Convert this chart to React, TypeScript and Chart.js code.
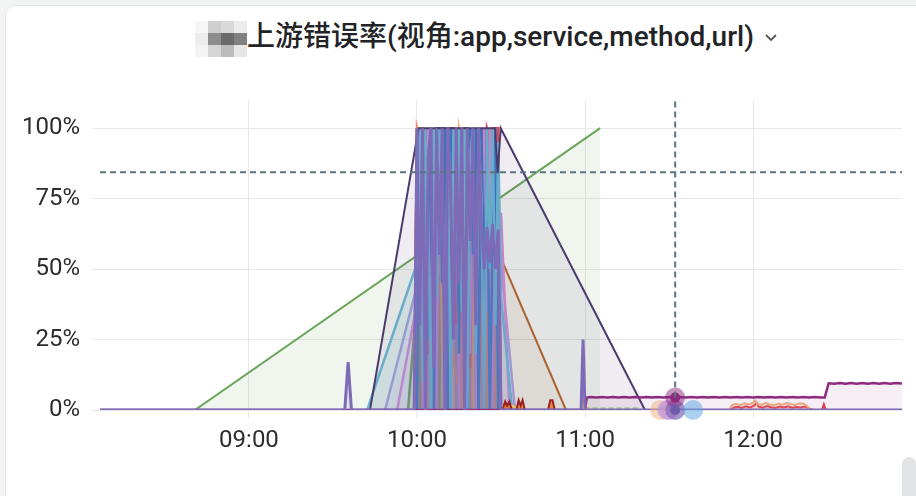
import React, { useEffect, useRef } from 'react';
import { Chart, registerables } from 'chart.js';
Chart.register(...registerables);

// ---------- axes ----------
const X_MIN = 486.8; // minutes of day (08:06.8)
const X_MAX = 773.2; // (12:53.2)
const xTicks = [540, 600, 660, 720];
const xTickLabels = ['09:00', '10:00', '11:00', '12:00'];
const yTicks = [0, 25, 50, 75, 100];
const yTickLabels = ['0%', '25%', '50%', '75%', '100%'];
const Y_MAX = 110;

// ---------- crosshair ----------
const crossX = 692.2;
const crossY = 84.4;

// ---------- big single series ----------
const greenTimes = [520.7, 665.4];
const greenVals = [0, 100];

const darkPurpleTimes = [583.2, 600.6, 627.9, 628.8, 629.9, 681.4];
const darkPurpleVals = [0, 100, 100, 84, 100, 0];

const brownTimes = [624.5, 625.6, 653.2];
const brownVals = [0, 64, 0];

// ---------- dense burst 10:00 - 10:30 ----------
const denseTimes = [600, 601, 602, 603, 604, 605, 606, 607, 608, 609, 610, 611, 612, 613, 614, 615, 616, 617, 618, 619, 620, 621, 622, 623, 624, 625, 626, 627, 628, 629, 630];

const purpleVals = [100, 30, 100, 0, 90, 100, 15, 100, 55, 100, 0, 100, 80, 25, 100, 45, 100, 0, 100, 60, 100, 30, 100, 66, 50, 65, 52, 66, 50, 64, 0];
const lightBlueVals = [52, 100, 10, 100, 70, 0, 100, 40, 100, 85, 20, 100, 0, 100, 60, 100, 35, 100, 0, 90, 100, 20, 100, 75, 0, 100, 50, 100, 30, 95, 40];
const blueVals = [0, 100, 60, 100, 25, 100, 0, 100, 100, 45, 100, 0, 100, 70, 100, 20, 100, 85, 0, 100, 55, 100, 0, 100, 40, 100, 0, 60, 100, 0, 0];
const orchidVals = [38, 100, 0, 80, 100, 30, 100, 0, 100, 65, 100, 10, 100, 40, 100, 0, 100, 75, 100, 20, 100, 0, 100, 55, 100, 35, 100, 0, 100, 60, 70];
const salmonVals = [100, 96, null, null, null, null, null, null, null, null, null, null, null, null, null, null, 0, 100, 0, 80, 100, 0, 100, 20, 100, 0, 100, 40, 0, 0, 0];
const redVals = [100, 70, 0, 100, 20, 100, 85, 0, 100, 45, 100, 0, 100, 100, 30, 100, 0, 90, 100, 15, 100, 60, 0, 100, 0, 100, 97, 100, 100, 100, 0];
const yellowVals = [0, 100, 100, 40, 100, 0, 100, 75, 100, 20, 100, 0, 100, 55, 100, 90, 0, 100, 30, 100, 0, 100, 65, 100, 10, 100, 45, 0, 80, 0, 0];
const greenDenseVals = [40, 0, 100, 35, 100, 0, 100, 60, 0, 100, 25, 100, 0, 100, 80, 100, 10, 100, 0, 100, 45, 100, 0, 100, 70, 0, 100, 0, 60, 0, 0];
const lavenderVals = [44, 100, 20, 100, 0, 100, 60, 100, 30, 100, 0, 85, 100, 15, 100, 50, 100, 0, 100, 70, 100, 25, 100, 0, 100, 60, 100, 20, 100, 75, 52];
const violetVals = [100, 0, 70, 100, 0, 100, 45, 100, 10, 100, 100, 0, 65, 100, 0, 100, 30, 100, 100, 0, 100, 50, 100, 0, 100, 15, 100, 60, 0, 0, 0];
const paleGreenVals = [0, 100, 0, 100, 55, 100, 0, 100, 20, 100, 70, 100, 0, 100, 40, 0, 100, 60, 100, 0, 100, 0, 85, 100, 30, 100, 0, 100, 0, 0, 0];
const peachDenseVals = [100, 30, 100, 0, 100, 65, 100, 0, 75, 100, 0, 100, 35, 100, 0, 100, 95, 20, 100, 0, 100, 40, 0, 100, 0, 100, 0, 40, 100, 30, 0];

// baseline purple lead-in / tail around the burst
const baseLeadTimes = [486.8, 574.2, 575.4, 576.6, 599];
const baseLeadVals = [0, 0, 17, 0, 0];
const baseTailTimes = [631, 658.6, 659.3, 660.0, 773.2];
const baseTailVals = [0, 0, 25, 0, 0];

// ---------- small things after 10:30 ----------
const darkRedTimes = [630.5, 631.5, 632.2, 633, 633.8, 635.5, 636.3, 637, 637.7, 638.5, 646.8, 647.6, 648.4, 649.2];
const darkRedVals = [0, 3, 1.5, 3, 0, 0, 3.5, 1.5, 3.5, 0, 0, 3.5, 3.5, 0];
const yellowSmallTimes = [630.2, 631.2, 632.5, 634, 636, 637.5, 658.6, 659.4, 660.5, 661.5];
const yellowSmallVals = [0, 2.2, 1, 1.5, 0.6, 0, 0, 3.5, 1, 0];
const paleGreenSpikeTimes = [658.5, 659.3, 660.1, 679.5];
const paleGreenSpikeVals = [0, 16, 0.6, 0.6];

const magentaTimes = [486.8, 660.0, 660.6, 662, 664, 666, 668, 670, 672, 674, 676, 678, 680, 682, 684, 686, 688, 690, 692, 694, 696, 698, 700, 702, 704, 706, 708, 710, 712, 714, 716, 718, 720, 722, 724, 726, 728, 730, 732, 734, 736, 738, 740, 742, 744, 745.6, 747.0, 749, 751, 753, 755, 757, 759, 761, 763, 765, 767, 769, 771, 773.2];
const magentaVals = [0, 0, 4.4, 4.6, 4.4, 4.6, 4.4, 4.6, 4.4, 4.6, 4.4, 4.6, 4.4, 4.6, 4.4, 4.6, 4.4, 4.6, 4.4, 4.6, 4.4, 4.6, 4.4, 4.6, 4.4, 4.6, 4.4, 4.6, 4.4, 4.6, 4.4, 4.6, 4.4, 4.6, 4.4, 4.6, 4.4, 4.6, 4.4, 4.6, 4.4, 4.6, 4.4, 4.6, 4.4, 4.4, 9.5, 9.3, 9.6, 9.3, 9.6, 9.3, 9.6, 9.3, 9.6, 9.3, 9.6, 9.3, 9.6, 9.4];

const peachTimes = [711.5, 712.5, 714, 715.5, 717, 718.5, 720, 720.7, 721.5, 723, 724.5, 726, 727.5, 729, 730.5, 732, 733.5, 735, 736.5, 738, 739.5, 740.5];
const peachVals = [0, 1.8, 2.2, 1.6, 2.4, 2.0, 2.6, 3.4, 2.2, 1.8, 2.5, 2.0, 1.6, 2.3, 1.9, 2.5, 2.1, 1.7, 2.4, 2.2, 1.2, 0];
const redSmallTimes = [712, 713, 714.5, 716, 717.5, 719, 720.5, 721.3, 722, 723.5, 725, 726.5, 728, 729.5, 731, 732.5, 734, 735.5, 737, 738.5, 740, 741.5, 744.6, 745.3, 746];
const redSmallVals = [0, 0.8, 1.1, 0.7, 1.3, 0.9, 1.6, 2.6, 1.2, 0.8, 1.4, 1.0, 0.7, 1.2, 0.9, 1.3, 0.8, 1.1, 0.9, 1.2, 0.6, 0, 0, 2, 0];

// ---------- hover markers ----------
const hoverTimes = [686.8, 689.3, 690.0, 692.2, 698.6, 692.2];
const hoverVals = [0, 0, 0, 0, 0, 4.4];
const hoverColors = ['rgba(245,178,127,0.5)', 'rgba(170,161,222,0.6)', 'rgba(213,138,210,0.55)', 'rgba(126,107,184,0.7)', 'rgba(88,164,227,0.5)', 'rgba(142,42,126,0.5)'];
const hoverDotTimes = [692.2, 692.2];
const hoverDotVals = [0, 4.4];
const hoverDotColors = ['#6f5aa8', '#8e2a7e'];

function pts(times: number[], vals: (number | null)[]) {
  return times.map((t, i) => ({ x: t, y: vals[i] }));
}

function rgba(hex: string, a: number) {
  const n = parseInt(hex.slice(1), 16);
  return `rgba(${(n >> 16) & 255},${(n >> 8) & 255},${n & 255},${a})`;
}

function lineDs(data: any[], color: string, extra: any = {}) {
  return {
    data,
    borderColor: color,
    backgroundColor: rgba(color, 0.09),
    borderWidth: 2,
    pointRadius: 0,
    tension: 0,
    fill: 'origin',
    spanGaps: true,
    ...extra,
  };
}

function dense(vals: (number | null)[], start = 599, end = 631) {
  return [{ x: start, y: 0 }, ...pts(denseTimes, vals), { x: end, y: 0 }];
}

function denseDs(data: any[], color: string) {
  return lineDs(data, color, { backgroundColor: rgba(color, 0.15), borderWidth: 2.5 });
}

export default function App() {
  const ref = useRef<HTMLCanvasElement | null>(null);

  useEffect(() => {
    if (!ref.current) return;
    Chart.defaults.font.family = 'Roboto, "Noto Sans CJK SC", sans-serif';

    const baseline = [...pts(baseLeadTimes, baseLeadVals), ...pts(denseTimes, purpleVals), ...pts(baseTailTimes, baseTailVals)];

    const datasets: any[] = [
      // crosshair
      lineDs([{ x: X_MIN, y: crossY }, { x: X_MAX, y: crossY }], '#5b7583', { fill: false, borderDash: [6, 4], borderWidth: 2 }),
      lineDs([{ x: crossX, y: 4.4 }, { x: crossX, y: Y_MAX }], '#5b7583', { fill: false, borderDash: [6, 4], borderWidth: 2 }),
      // hover markers
      { data: pts(hoverDotTimes, hoverDotVals), showLine: false, clip: false, pointRadius: 5, pointBorderWidth: 0, pointBackgroundColor: hoverDotColors, pointBorderColor: hoverDotColors },
      { data: pts(hoverTimes, hoverVals), showLine: false, clip: false, pointRadius: 10, pointBorderWidth: 0, pointBackgroundColor: hoverColors, pointBorderColor: hoverColors },
      // baseline purple
      lineDs(baseline, '#7e6bb8', { borderWidth: 3, backgroundColor: 'rgba(126,107,184,0.15)' }),
      lineDs(pts(magentaTimes, magentaVals), '#8e2a7e', { borderWidth: 2.5, backgroundColor: 'rgba(142,42,126,0.08)' }),
      lineDs(pts(peachTimes, peachVals), '#f5b27f', { backgroundColor: 'rgba(245,178,127,0.15)' }),
      lineDs(pts(redSmallTimes, redSmallVals), '#e23c4a', { backgroundColor: 'rgba(226,60,74,0.1)' }),
      lineDs(pts(darkRedTimes, darkRedVals), '#9b2222', { backgroundColor: 'rgba(226,120,40,0.8)' }),
      lineDs(pts(yellowSmallTimes, yellowSmallVals), '#f2c14e', { backgroundColor: 'rgba(242,193,78,0.3)' }),
      lineDs(pts(paleGreenSpikeTimes, paleGreenSpikeVals), '#a6cf8f', { borderDash: [5, 3] }),
      lineDs(pts(darkPurpleTimes, darkPurpleVals), '#4b3b6e'),
      denseDs(dense(lightBlueVals, 582.2, 634), '#6cb8d3'),
      denseDs(dense(blueVals), '#3b77c8'),
      denseDs(dense(orchidVals, 592.9, 633), '#d58ad2'),
      denseDs(dense(salmonVals), '#ef8660'),
      denseDs(dense(redVals, 599, 630.6), '#e2474f'),
      denseDs(dense(yellowVals), '#f2c14e'),
      denseDs(dense(greenDenseVals, 596.8, 631), '#5e9a4c'),
      denseDs(dense(lavenderVals, 588.6, 635), '#aaa1de'),
      denseDs(dense(violetVals), '#8f73c6'),
      denseDs(dense(paleGreenVals), '#a6cf8f'),
      denseDs(dense(peachDenseVals), '#f5b27f'),
      lineDs(pts(brownTimes, brownVals), '#b5652a', { backgroundColor: 'rgba(181,101,42,0.08)' }),
      lineDs(pts(greenTimes, greenVals), '#6aa55a', { backgroundColor: 'rgba(106,165,90,0.1)', spanGaps: false }),
    ];

    const chart = new Chart(ref.current, {
      type: 'line',
      data: { datasets },
      options: {
        animation: false,
        responsive: false,
        maintainAspectRatio: false,
        events: [],
        layout: { padding: { left: 0, right: 14, top: 100, bottom: 0 } },
        plugins: { legend: { display: false }, tooltip: { enabled: false }, title: { display: false } },
        scales: {
          x: {
            type: 'linear',
            min: X_MIN,
            max: X_MAX,
            afterFit: (s: any) => { s.height = 86; },
            afterBuildTicks: (s: any) => { s.ticks = xTicks.map((v) => ({ value: v })); },
            ticks: {
              autoSkip: false,
              maxRotation: 0,
              padding: 9,
              color: '#2b2d30',
              font: { size: 24, family: 'Roboto' },
              callback: (v: any) => xTickLabels[xTicks.indexOf(Number(v))] ?? '',
            },
            grid: { color: '#e8e8e8', tickLength: 8, lineWidth: 1 },
            border: { display: false },
          },
          y: {
            type: 'linear',
            min: 0,
            max: Y_MAX,
            afterFit: (s: any) => { s.width = 100; },
            afterBuildTicks: (s: any) => { s.ticks = yTicks.map((v) => ({ value: v })); },
            ticks: {
              padding: 12,
              color: '#2b2d30',
              font: { size: 24, family: 'Roboto' },
              callback: (v: any) => yTickLabels[yTicks.indexOf(Number(v))] ?? '',
            },
            grid: { color: '#e8e8e8', tickLength: 8, lineWidth: 1 },
            border: { display: false },
          },
        },
      },
    });
    return () => chart.destroy();
  }, []);

  const mosaic = [
    ['#f6f6f6', '#cfcfcf', '#d9d9d9', '#ececec'],
    ['#ededed', '#8c8c8c', '#6a6a6a', '#808080'],
    ['#f3f3f3', '#d6d6d6', '#bcbcbc', '#e6e6e6'],
  ];

  return (
    <div style={{ position: 'fixed', left: 0, top: 0, width: 916, height: 496, background: '#f2f3f3', overflow: 'hidden' }}>
      <div style={{ position: 'absolute', left: 5, top: 5, width: 960, height: 540, background: '#ffffff', border: '1px solid #e3e5e5', borderRadius: 10 }} />
      {mosaic.map((row, r) =>
        row.map((c, k) => (
          <div key={`${r}-${k}`} style={{ position: 'absolute', left: 195 + k * 13, top: 21 + r * 12, width: 13, height: 12, background: c }} />
        ))
      )}
      <div style={{ position: 'absolute', left: 247, top: 22, fontFamily: 'Roboto, "Noto Sans CJK SC", sans-serif', fontSize: 28, lineHeight: '30px', fontWeight: 500, color: '#222326', whiteSpace: 'nowrap' }}>
        上游错误率(视角:app,service,method,url)
      </div>
      <svg style={{ position: 'absolute', left: 764, top: 33 }} width={14} height={10}>
        <polyline points="2,2 7,7 12,2" fill="none" stroke="#555" strokeWidth={1.8} />
      </svg>
      <canvas ref={ref} width={916} height={496} style={{ position: 'absolute', left: 0, top: 0, width: 916, height: 496 }} />
      <div style={{ position: 'absolute', left: 902, top: 457, width: 14, height: 60, background: '#e2e3e5', borderRadius: 7 }} />
    </div>
  );
}
